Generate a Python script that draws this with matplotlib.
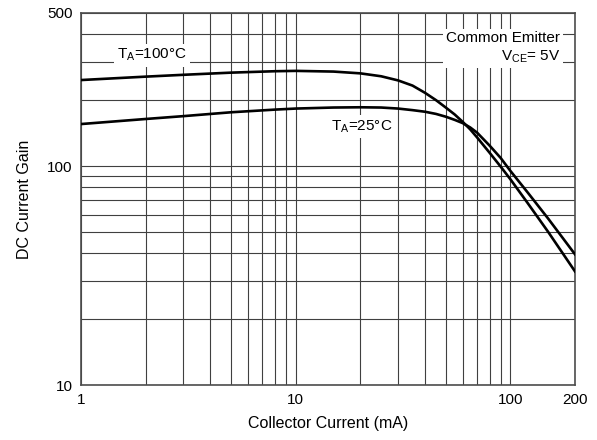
import matplotlib.pyplot as plt
from matplotlib.ticker import FixedLocator, FixedFormatter, NullFormatter

plt.rcParams["font.family"] = ["Liberation Sans", "DejaVu Sans"]
plt.rcParams["mathtext.fontset"] = "custom"
plt.rcParams["mathtext.rm"] = "Liberation Sans"

# collector current (mA) and DC current gain
current = [1, 2, 3, 5, 8, 10, 15, 20, 25, 30, 35, 40, 45, 50, 55, 60, 65, 70,
           80, 90, 100, 120, 150, 200]
gain_100c = [247, 256, 261, 267, 271, 272, 270, 265, 257, 246, 233, 216, 200, 185,
             172, 159, 147, 135, 115, 99.5, 87, 68, 50, 33]
gain_25c = [155.5, 164, 169, 176, 181, 183, 185, 185.5, 185, 183, 180, 177, 173, 168,
            162.5, 157, 150, 142, 124, 109, 95, 76, 57.5, 39.5]

x_major = [1, 10, 100, 200]
x_labels = ["1", "10", "100", "200"]
x_minor = [2, 3, 4, 5, 6, 7, 8, 9, 20, 30, 40, 50, 60, 70, 80, 90]
y_major = [10, 100, 500]
y_labels = ["10", "100", "500"]
y_minor = [20, 30, 40, 50, 60, 70, 80, 90, 200, 300, 400]

fig = plt.figure(figsize=(5.97, 4.40), dpi=100)
ax = fig.add_axes([0.1357, 0.125, 0.8275, 0.8455])

ax.plot(current, gain_100c, color="black", linewidth=1.9, zorder=4)
ax.plot(current, gain_25c, color="black", linewidth=1.9, zorder=4)

ax.set_xscale("log")
ax.set_yscale("log")
ax.set_xlim(1, 200)
ax.set_ylim(10, 500)

ax.xaxis.set_major_locator(FixedLocator(x_major))
ax.xaxis.set_major_formatter(FixedFormatter(x_labels))
ax.xaxis.set_minor_locator(FixedLocator(x_minor))
ax.xaxis.set_minor_formatter(NullFormatter())
ax.yaxis.set_major_locator(FixedLocator(y_major))
ax.yaxis.set_major_formatter(FixedFormatter(y_labels))
ax.yaxis.set_minor_locator(FixedLocator(y_minor))
ax.yaxis.set_minor_formatter(NullFormatter())

ax.tick_params(which="both", length=0, labelsize=11, pad=6)
ax.grid(which="both", color="0.25", linewidth=0.8)
ax.set_axisbelow(True)
for side in ax.spines.values():
    side.set_color("0.3")
    side.set_linewidth(1.2)

ax.set_xlabel("Collector Current (mA)", fontsize=11.5, labelpad=6)
ax.set_ylabel("DC Current Gain", fontsize=11.5, labelpad=11)

box = dict(facecolor="white", edgecolor="none", boxstyle="square,pad=0.2")
ax.text(2.14, 321, r"T$_\mathrm{A}$=100°C", fontsize=11, ha="center", va="center",
        bbox=box, zorder=3)
ax.text(20.4, 151, r"T$_\mathrm{A}$=25°C", fontsize=11, ha="center", va="center",
        bbox=box, zorder=3)
ax.text(170, 346, "Common Emitter\n" + r"V$_\mathrm{CE}$= 5V", fontsize=11,
        ha="right", va="center", multialignment="right", linespacing=1.35,
        bbox=box, zorder=3)

plt.savefig("out.png", dpi=100)
